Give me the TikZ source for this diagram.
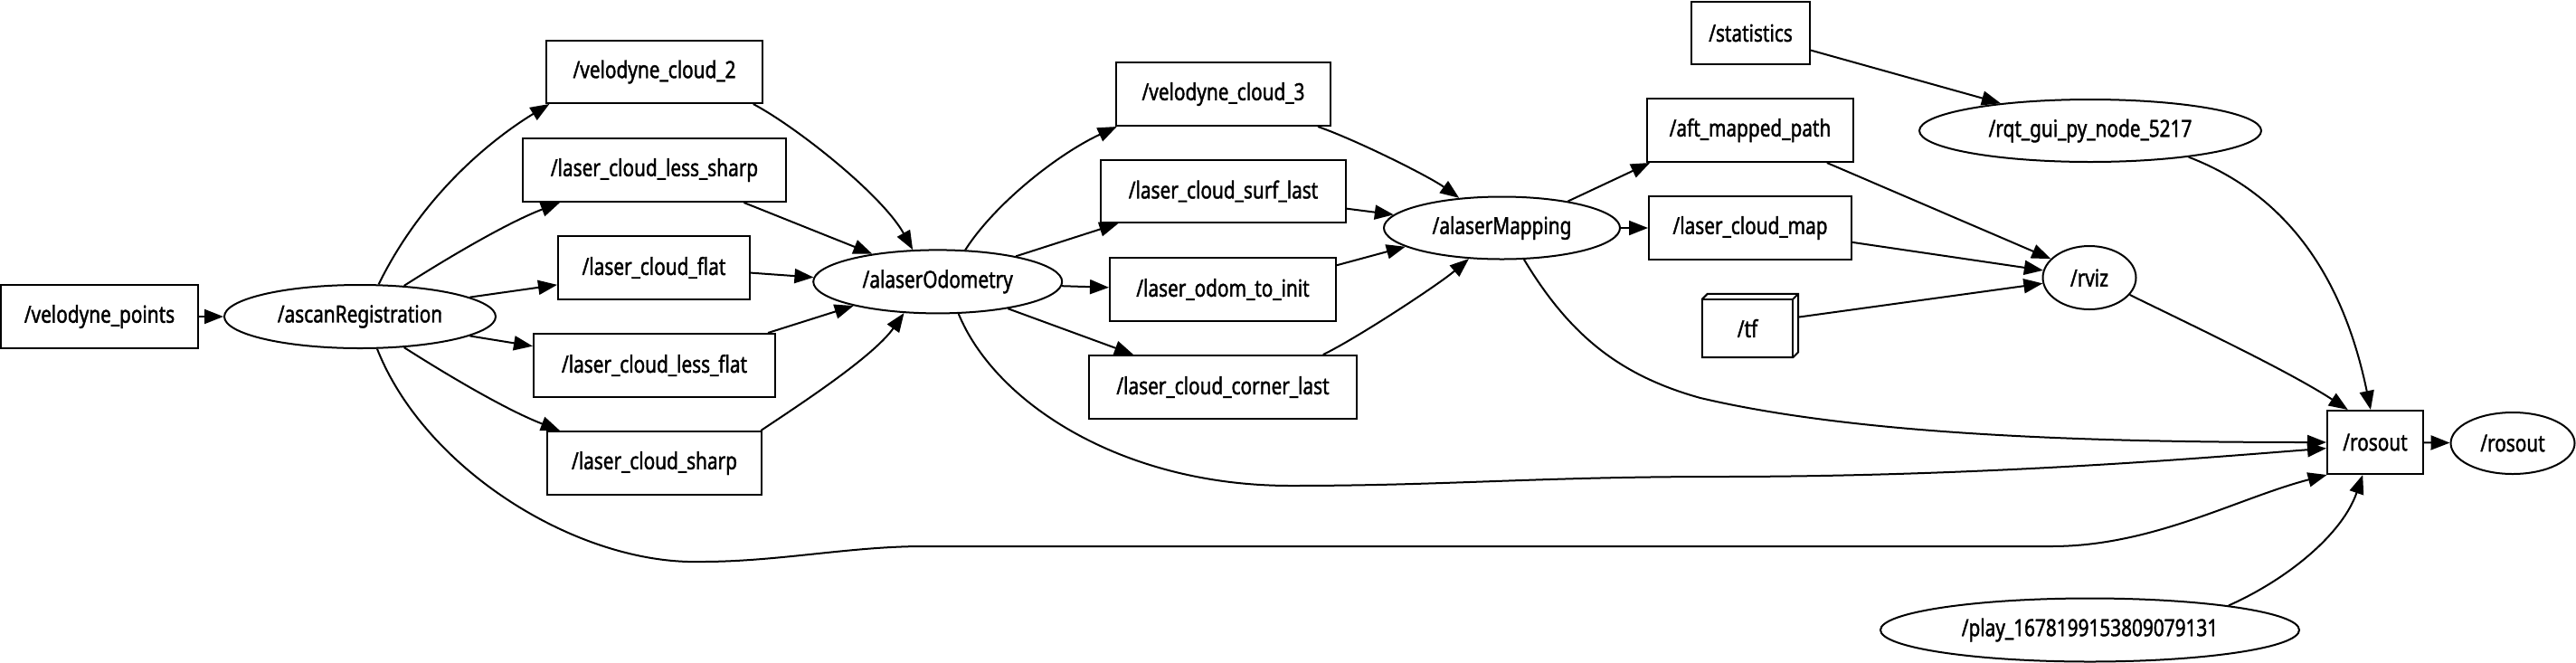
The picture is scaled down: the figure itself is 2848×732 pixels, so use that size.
\documentclass[tikz,border=0pt]{standalone}
\usepackage{fontspec}
\newfontfamily\nf{Noto Sans}[FakeStretch=0.8,FakeBold=1.5]
\usetikzlibrary{arrows.meta,shapes.geometric}
\begin{document}
\begin{tikzpicture}[x=1pt,y=-1pt,
  lbl/.style={font=\nf\fontsize{26pt}{30pt}\selectfont},
  box/.style={lbl,draw,rectangle,line width=2pt,inner sep=0pt},
  ell/.style={lbl,draw,ellipse,line width=2pt,inner sep=0pt},
  edge/.style={line width=2pt,-{Triangle[length=21pt,width=16pt]}}]
\useasboundingbox (0,0) rectangle (2848,732);
% topic boxes
\node[box,minimum width=218pt,minimum height=70pt] (vp) at (110,350) {/velodyne\_points};
\node[box,minimum width=239pt,minimum height=69pt] (vc2) at (723.5,79.5) {/velodyne\_cloud\_2};
\node[box,minimum width=291pt,minimum height=70pt] (lcls) at (723.5,188) {/laser\_cloud\_less\_sharp};
\node[box,minimum width=212pt,minimum height=70pt] (lcf) at (723,296) {/laser\_cloud\_flat};
\node[box,minimum width=267pt,minimum height=70pt] (lclf) at (723.5,404) {/laser\_cloud\_less\_flat};
\node[box,minimum width=237pt,minimum height=70pt] (lcs) at (723.5,512) {/laser\_cloud\_sharp};
\node[box,minimum width=237pt,minimum height=70pt] (vc3) at (1352.5,104) {/velodyne\_cloud\_3};
\node[box,minimum width=271pt,minimum height=69pt] (lcsl) at (1352.5,211.5) {/laser\_cloud\_surf\_last};
\node[box,minimum width=250pt,minimum height=70pt] (loti) at (1352,320) {/laser\_odom\_to\_init};
\node[box,minimum width=296pt,minimum height=70pt] (lccl) at (1352,428) {/laser\_cloud\_corner\_last};
\node[box,minimum width=131pt,minimum height=69pt] (stat) at (1935.5,36.5) {/statistics};
\node[box,minimum width=228pt,minimum height=70pt] (amp) at (1935,144) {/aft\_mapped\_path};
\node[box,minimum width=224pt,minimum height=70pt] (lcm) at (1935,252) {/laser\_cloud\_map};
\node[box,minimum width=106pt,minimum height=70pt] (rosbox) at (2626,489) {/rosout};
% tf (box3d)
\node[lbl,rectangle,inner sep=0pt,minimum width=106pt,minimum height=70pt] (tf) at (1935,360) {};
\draw[line width=2pt,line join=miter] (tf.south west) -- ([yshift=-6pt]tf.north west) -- ([xshift=6pt]tf.north west) -- (tf.north east) -- ([yshift=6pt]tf.south east) -- ([xshift=-6pt]tf.south east) -- cycle;
\draw[line width=2pt] ([yshift=-6pt]tf.north west) -- ([xshift=-6pt,yshift=-6pt]tf.north east) -- ([xshift=-6pt]tf.south east);
\draw[line width=2pt] ([xshift=-6pt,yshift=-6pt]tf.north east) -- (tf.north east);
\node[lbl] (tftext) at (1932,363) {/tf};
% node ellipses
\node[ell,minimum width=300pt,minimum height=70pt] (ascan) at (398,350) {/ascanRegistration};
\node[ell,minimum width=275pt,minimum height=70pt] (odo) at (1036.7,311.4) {/alaserOdometry};
\node[ell,minimum width=261pt,minimum height=69pt] (map) at (1660.5,252) {/alaserMapping};
\node[ell,minimum width=378pt,minimum height=69pt] (rqt) at (2311,144.5) {/rqt\_gui\_py\_node\_5217};
\node[ell,minimum width=103pt,minimum height=70pt] (rviz) at (2310,307) {/rviz};
\node[ell,minimum width=137pt,minimum height=68pt] (rosell) at (2778,490) {/rosout};
\node[ell,minimum width=463pt,minimum height=70pt] (play) at (2310.5,696.5) {/play\_1678199153809079131};
% edges
\draw[edge] (vp) -- (ascan);
\draw[edge] (ascan.60) .. controls (470,210) and (550,150) .. (vc2.197);
\draw[edge] (ascan.35) .. controls (503,280) and (564,245) .. (lcls.199);
\draw[edge] (ascan.10) -- (lcf.190);
\draw[edge] (ascan.350) -- (lclf.171);
\draw[edge] (ascan.325) .. controls (503,420) and (564,455) .. (lcs.161);
\draw[edge] (ascan.298) .. controls (470,520) and (640,625) .. (776,621) .. controls (860,621) and (940,604) .. (1021,604) -- (2268,604) .. controls (2380,604) and (2473,551) .. (rosbox.214);
\draw[edge] (vc2.342) .. controls (880,140) and (975,215) .. (odo.128);
\draw[edge] (lcls.340) -- (odo.157);
\draw[edge] (lcf.357) -- (odo.178);
\draw[edge] (lclf.16) -- (odo.196);
\draw[edge] (lcs.17) .. controls (880,450) and (965,395) .. (odo.223);
\draw[edge] (odo.49) .. controls (1100,225) and (1170,170) .. (vc3.197);
\draw[edge] (odo.18) -- (lcsl.197);
\draw[edge] (odo.358) -- (loti.179);
\draw[edge] (odo.339) -- (lccl.160);
\draw[edge] (odo.303) .. controls (1100,445) and (1240,537) .. (1427,537) .. controls (1600,537) and (1700,527) .. (1900,527) .. controls (2200,527) and (2450,505) .. (rosbox.187);
\draw[edge] (vc3.341) .. controls (1500,155) and (1580,195) .. (map.145);
\draw[edge] (lcsl.352) -- (map.173);
\draw[edge] (loti.12) -- (map.191);
\draw[edge] (lccl.18) .. controls (1500,374) and (1590,315) .. (map.223);
\draw[edge] (map.22) -- (amp.198);
\draw[edge] (map.east) -- (lcm.west);
\draw[edge] (map.305) .. controls (1735,370) and (1790,415) .. (1880,440) .. controls (2050,480) and (2300,489) .. (rosbox.west);
\draw[edge] (stat.344) -- (rqt.163);
\draw[edge] (amp.337) -- (rviz.154);
\draw[edge] (lcm.352) -- (rviz.171);
\draw[edge] (tf.10) -- (rviz.187);
\draw[edge] (rqt.345) .. controls (2530,216) and (2591,308) .. (rosbox.98);
\draw[edge] (rviz.337) .. controls (2420,358) and (2530,410) .. (rosbox.130);
\draw[edge] (rosbox) -- (rosell);
\draw[edge] (play.10) .. controls (2530,640) and (2590,590) .. (rosbox.249);
\end{tikzpicture}
\end{document}
